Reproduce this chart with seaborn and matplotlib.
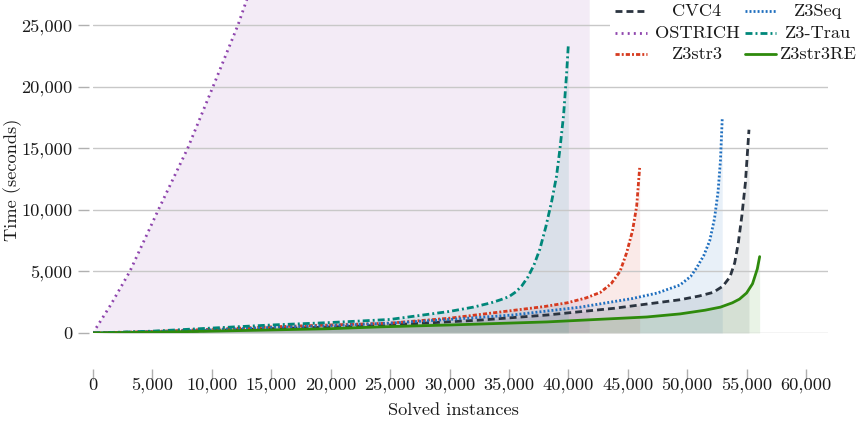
import matplotlib
matplotlib.use("Agg")
import matplotlib.pyplot as plt
import seaborn as sns
from matplotlib.lines import Line2D
from matplotlib.patches import Rectangle
from matplotlib.ticker import MultipleLocator, StrMethodFormatter

# --- DATA (cactus plot: cumulative time vs solved instances) ---
cvc4_x = [0, 5000, 10000, 15000, 20000, 25000, 32600, 38200, 43800, 47000, 49400, 51000,
          52200, 53000, 53600, 54000, 54300, 54600, 54900, 55200]
cvc4_y = [0, 80, 200, 350, 480, 650, 1050, 1460, 2000, 2400, 2700, 3000,
          3300, 3800, 4550, 5700, 7300, 9500, 12200, 16500]

ostrich_x = [0, 1500, 3100, 5500, 7970, 10100, 12200, 14000, 20000, 30000, 41800]
ostrich_y = [0, 2300, 5000, 10000, 15000, 20000, 25000, 30000, 48000, 85000, 140000]

z3str3_x = [0, 5000, 10000, 15000, 20000, 25000, 30000, 35900, 38000, 39900, 41500, 42700,
            43600, 44350, 44900, 45400, 45750, 46000]
z3str3_y = [0, 120, 300, 500, 650, 800, 1200, 1900, 2150, 2450, 2850, 3300,
            4000, 5000, 6500, 8300, 10300, 13400]

z3seq_x = [0, 5000, 10000, 15000, 20000, 25000, 30000, 35300, 41000, 45400, 47500, 49400,
           50300, 50800, 51400, 51900, 52300, 52600, 52800, 52950]
z3seq_y = [0, 100, 250, 450, 600, 800, 1100, 1460, 2100, 2800, 3250, 3900,
           4600, 5300, 6300, 7500, 9300, 11500, 14000, 17400]

z3trau_x = [0, 5000, 10000, 15000, 20000, 25000, 30000, 32000, 33500, 34300, 35000, 35600,
            36100, 36600, 37100, 37600, 38100, 38600, 39000, 39300, 39600, 39850, 40000]
z3trau_y = [0, 150, 400, 650, 850, 1100, 1750, 2100, 2450, 2700, 2950, 3350,
            3850, 4550, 5500, 6800, 8600, 10700, 12700, 15000, 17700, 21000, 23400]

z3str3re_x = [0, 5000, 10000, 15000, 20000, 24200, 30000, 38200, 46600, 49400, 51500, 52800,
              53800, 54400, 55000, 55500, 55900, 56100]
z3str3re_y = [0, 60, 150, 250, 350, 500, 650, 900, 1300, 1550, 1850, 2100,
              2450, 2750, 3250, 4000, 5200, 6200]

series = [
    ("CVC4", cvc4_x, cvc4_y, "#2b3440", (2.5, 1.45)),
    ("OSTRICH", ostrich_x, ostrich_y, "#8e44ad", (0.7, 1.5)),
    ("Z3str3", z3str3_x, z3str3_y, "#d63a1f", (1.5, 0.75, 0.7, 0.75)),
    ("Z3Seq", z3seq_x, z3seq_y, "#1f6fbf", (0.7, 0.75)),
    ("Z3-Trau", z3trau_x, z3trau_y, "#00877a", (2.5, 1.1, 0.7, 1.1)),
    ("Z3str3RE", z3str3re_x, z3str3re_y, "#2e8a0c", None),
]

sns.set_theme(style="white")
plt.rcParams["font.family"] = ["cmr10", "DejaVu Serif"]
plt.rcParams["axes.formatter.use_mathtext"] = True

FS = 13.2
TXT = "#1a1a1a"
fig = plt.figure(figsize=(8.59, 4.22), dpi=100)
ax = fig.add_axes([93 / 859, 89 / 422, 735 / 859, 333 / 422])

LW = 2.0
for name, xs, ys, col, dash in series:
    ax.fill_between(xs, ys, 0, color=col, alpha=0.1, linewidth=0, zorder=1)
    sns.lineplot(x=xs, y=ys, color=col, linewidth=LW, ax=ax,
                 estimator=None, sort=False, zorder=3)
    if dash is not None:
        ax.lines[-1].set_dashes(dash)

ax.set_xlim(0, 61850)
ax.set_ylim(0, 27030)
ax.xaxis.set_major_locator(MultipleLocator(5000))
ax.yaxis.set_major_locator(MultipleLocator(5000))
fmt = StrMethodFormatter("{x:,.0f}")
ax.xaxis.set_major_formatter(fmt)
ax.yaxis.set_major_formatter(fmt)

ax.grid(axis="y", color="#c8c8c8", linewidth=1.0, zorder=2)
ax.set_axisbelow(False)
for s in ax.spines.values():
    s.set_visible(False)
ax.spines["bottom"].set_position(("outward", 26))
ax.spines["left"].set_position(("outward", 3))
ax.tick_params(axis="both", which="major", length=8, width=1, color="#b0b0b0",
               labelsize=FS, labelcolor=TXT, bottom=True, left=True)
ax.tick_params(axis="x", pad=-2)
ax.tick_params(axis="y", pad=4)

ax.set_xlabel("Solved instances", fontsize=FS, color=TXT)
ax.set_ylabel("Time (seconds)", fontsize=FS, color=TXT)
ax.xaxis.set_label_coords(0.491, -0.231)
ax.xaxis.label.set_va("center")
ax.yaxis.set_label_coords(-0.110, 0.459)
ax.yaxis.label.set_va("center")

# legend: two columns, centred labels, white box
W, H = 859.0, 422.0
fig.add_artist(Rectangle((610 / W, 1 - 66 / H), 1, 66 / H, transform=fig.transFigure,
                         facecolor="white", edgecolor="none", zorder=4))
cols = [(615, 647, 697), (745, 776, 818)]
rows = [11, 33, 54]
for i, (name, xs, ys, col, dash) in enumerate(series):
    c, r = cols[i // 3], rows[i % 3]
    ln = Line2D([c[0] / W, c[1] / W], [1 - r / H, 1 - r / H], transform=fig.transFigure,
                color=col, linewidth=LW, zorder=5)
    if dash is not None:
        ln.set_dashes(dash)
    fig.add_artist(ln)
    fig.text(c[2] / W, 1 - r / H, name, ha="center", va="center", fontsize=FS,
             color=TXT, zorder=5)

fig.savefig("out.png", dpi=100)
